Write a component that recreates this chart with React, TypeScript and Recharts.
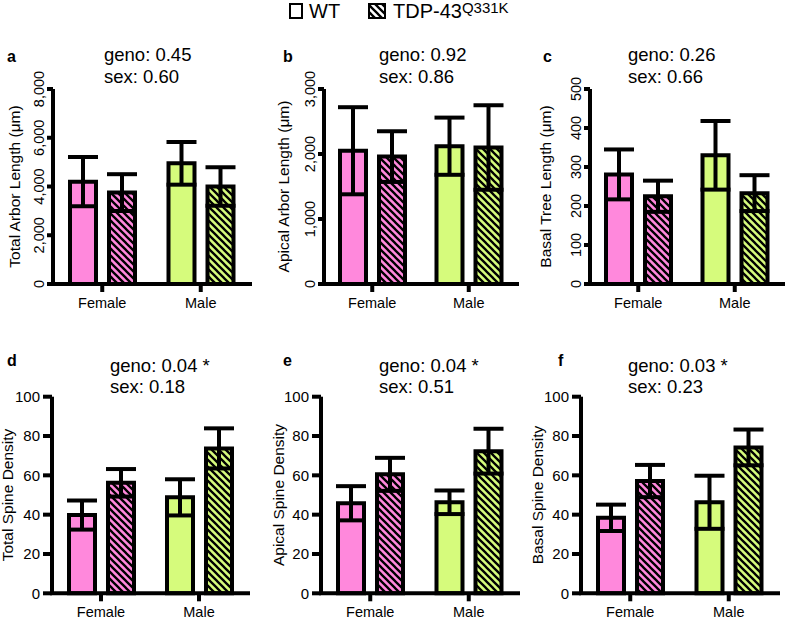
import React from "react";
import { BarChart, Bar, XAxis, YAxis, Cell, ErrorBar, Label } from "recharts";

const sexes = ["Female", "Male"];

// a - total arbor length (um)
const totalArborWT = [4200, 4950];
const totalArborWTSem = [1010, 875];
const totalArborTDP = [3750, 4000];
const totalArborTDPSem = [755, 790];

// b - apical arbor length (um)
const apicalArborWT = [2050, 2120];
const apicalArborWTSem = [670, 440];
const apicalArborTDP = [1960, 2100];
const apicalArborTDPSem = [390, 650];

// c - basal tree length (um)
const basalTreeWT = [281, 330];
const basalTreeWTSem = [64, 88];
const basalTreeTDP = [225, 233];
const basalTreeTDPSem = [40, 46];

// d - total spine density
const totalSpineWT = [39.8, 48.8];
const totalSpineWTSem = [7.4, 9.2];
const totalSpineTDP = [56.2, 73.7];
const totalSpineTDPSem = [7.0, 10.2];

// e - apical spine density
const apicalSpineWT = [45.8, 46.3];
const apicalSpineWTSem = [8.7, 6.0];
const apicalSpineTDP = [60.5, 72.3];
const apicalSpineTDPSem = [8.4, 11.4];

// f - basal spine density
const basalSpineWT = [38.4, 46.3];
const basalSpineWTSem = [6.7, 13.5];
const basalSpineTDP = [57.1, 74.2];
const basalSpineTDPSem = [8.2, 9.1];

const arborTicks = [0, 2000, 4000, 6000, 8000];
const apicalTicks = [0, 1000, 2000, 3000];
const basalTicks = [0, 100, 200, 300, 400, 500];
const densityTicks = [0, 20, 40, 60, 80, 100];

const panelLetters = ["a", "b", "c", "d", "e", "f"];
const yTitles = [
  "Total Arbor Length (μm)",
  "Apical Arbor Length (μm)",
  "Basal Tree Length (μm)",
  "Total Spine Density",
  "Apical Spine Density",
  "Basal Spine Density",
];
const genoP = ["0.45", "0.92", "0.26", "0.04 *", "0.04 *", "0.03 *"];
const sexP = ["0.60", "0.86", "0.66", "0.18", "0.51", "0.23"];

const PINK = "#ff88dc";
const GREEN = "#d6fb7c";
const FONT = "'Liberation Sans', Arial, Helvetica, sans-serif";
const SW = 4;

const table = (wt: number[], wtSem: number[], tdp: number[], tdpSem: number[]) =>
  sexes.map((sex, i) => ({ sex, wt: wt[i], wtErr: wtSem[i], tdp: tdp[i], tdpErr: tdpSem[i] }));

const panels = [
  { data: table(totalArborWT, totalArborWTSem, totalArborTDP, totalArborTDPSem), ticks: arborTicks },
  { data: table(apicalArborWT, apicalArborWTSem, apicalArborTDP, apicalArborTDPSem), ticks: apicalTicks },
  { data: table(basalTreeWT, basalTreeWTSem, basalTreeTDP, basalTreeTDPSem), ticks: basalTicks },
  { data: table(totalSpineWT, totalSpineWTSem, totalSpineTDP, totalSpineTDPSem), ticks: densityTicks },
  { data: table(apicalSpineWT, apicalSpineWTSem, apicalSpineTDP, apicalSpineTDPSem), ticks: densityTicks },
  { data: table(basalSpineWT, basalSpineWTSem, basalSpineTDP, basalSpineTDPSem), ticks: densityTicks },
];

// layout: left, width, y-axis width, right margin, title baseline x (page), letter x, stats x
const layout = [
  { left: 0, width: 260, yw: 53, mr: 10, titleX: 19.5, letterX: 7, statX: 104 },
  { left: 262, width: 262, yw: 62, mr: 7, titleX: 289, letterX: 283, statX: 379 },
  { left: 524, width: 263, yw: 66, mr: 4, titleX: 551, letterX: 543, statX: 628 },
  { left: 0, width: 260, yw: 52, mr: 12, titleX: 13, letterX: 7, statX: 110 },
  { left: 262, width: 262, yw: 59, mr: 6, titleX: 284, letterX: 283, statX: 379 },
  { left: 524, width: 263, yw: 57, mr: 9, titleX: 543, letterX: 558, statX: 628 },
];

const rows = [
  { top: 40, height: 280, mt: 49, mb: 6, xh: 30, tickMargin: 6, letterY: 62, statY: 61 },
  { top: 350, height: 269, mt: 46.7, mb: 0, xh: 25.7, tickMargin: 5, letterY: 366, statY: 371.7 },
];

const fmt = (v: number) => v.toLocaleString("en-US");

function RotatedTick(props: any) {
  const { x, y, payload } = props;
  return (
    <text
      x={x}
      y={y}
      transform={`rotate(-90, ${x}, ${y})`}
      textAnchor="middle"
      fontSize={14.5}
      fill="#000"
      fontFamily={FONT}
    >
      {fmt(payload.value)}
    </text>
  );
}

function FlatTick(props: any) {
  const { x, y, payload } = props;
  return (
    <text x={x} y={y} dy="0.35em" textAnchor="end" fontSize={15} fill="#000" fontFamily={FONT}>
      {payload.value}
    </text>
  );
}

function Panel({ idx }: { idx: number }) {
  const p = panels[idx];
  const l = layout[idx];
  const r = rows[idx < 3 ? 0 : 1];
  const plotH = r.height - r.mt - r.mb - r.xh;
  const titleY = r.mt + plotH / 2;
  const titleX = l.titleX - l.left;
  const top = idx < 3;
  return (
    <div style={{ position: "absolute", left: l.left, top: r.top }}>
      <BarChart
        width={l.width}
        height={r.height}
        data={p.data}
        margin={{ top: r.mt, right: l.mr, bottom: r.mb, left: 0 }}
        barSize={26}
        barGap={13}
      >
        <XAxis
          dataKey="sex"
          height={r.xh}
          axisLine={{ stroke: "#000", strokeWidth: SW, strokeLinecap: "square" }}
          tickLine={{ stroke: "#000", strokeWidth: SW }}
          tickSize={8}
          tickMargin={r.tickMargin}
          tick={{ fill: "#000", fontSize: 14.5, fontFamily: FONT }}
        />
        <YAxis
          width={l.yw}
          domain={[0, p.ticks[p.ticks.length - 1]]}
          ticks={p.ticks}
          interval={0}
          axisLine={{ stroke: "#000", strokeWidth: SW }}
          tickLine={{ stroke: "#000", strokeWidth: SW }}
          tickSize={top ? 6 : 9}
          tickMargin={3}
          tick={top ? <RotatedTick /> : <FlatTick />}
        >
          <Label
            content={() => (
              <text
                x={titleX}
                y={titleY}
                transform={`rotate(-90, ${titleX}, ${titleY})`}
                textAnchor="middle"
                fontSize={15.5}
                fill="#000"
                fontFamily={FONT}
              >
                {yTitles[idx]}
              </text>
            )}
          />
        </YAxis>
        <Bar dataKey="wt" stroke="#000" strokeWidth={SW} isAnimationActive={false}>
          {p.data.map((_, i) => (
            <Cell key={i} fill={i === 0 ? PINK : GREEN} />
          ))}
          <ErrorBar dataKey="wtErr" width={15} stroke="#000" strokeWidth={SW} isAnimationActive={false} />
        </Bar>
        <Bar dataKey="tdp" stroke="#000" strokeWidth={SW} isAnimationActive={false}>
          {p.data.map((_, i) => (
            <Cell key={i} fill={i === 0 ? "url(#hatchPink)" : "url(#hatchGreen)"} />
          ))}
          <ErrorBar dataKey="tdpErr" width={15} stroke="#000" strokeWidth={SW} isAnimationActive={false} />
        </Bar>
      </BarChart>
    </div>
  );
}

function Hatch({ id, color }: { id: string; color: string }) {
  return (
    <pattern id={id} patternUnits="userSpaceOnUse" width={7} height={7}>
      <rect width={7} height={7} fill={color} />
      <path d="M-1,-1 L8,8 M-1,6 L1,8 M6,-1 L8,1" stroke="#000" strokeWidth={2.3} />
    </pattern>
  );
}

export default function App() {
  return (
    <div
      style={{
        position: "absolute",
        left: 0,
        top: 0,
        width: 787,
        height: 619,
        background: "#fff",
        fontFamily: FONT,
        overflow: "hidden",
      }}
    >
      <svg width={0} height={0} style={{ position: "absolute" }}>
        <defs>
          <Hatch id="hatchPink" color={PINK} />
          <Hatch id="hatchGreen" color={GREEN} />
          <Hatch id="hatchWhite" color="#fff" />
        </defs>
      </svg>
      {panels.map((_, i) => (
        <Panel key={i} idx={i} />
      ))}
      <svg
        width={787}
        height={619}
        style={{ position: "absolute", left: 0, top: 0, pointerEvents: "none" }}
        fontFamily={FONT}
      >
        <rect x={290} y={4} width={12} height={14} fill="#fff" stroke="#000" strokeWidth={2} />
        <text x={309} y={18} fontSize={20} fill="#000">
          WT
        </text>
        <rect x={369} y={4} width={16} height={14} fill="url(#hatchWhite)" stroke="#000" strokeWidth={2} />
        <text x={393} y={18} fontSize={20} fill="#000">
          TDP-43
          <tspan fontSize={15} dy={-5}>
            Q331K
          </tspan>
        </text>
        {layout.map((l, i) => {
          const r = rows[i < 3 ? 0 : 1];
          return (
            <g key={i}>
              <text x={l.letterX} y={r.letterY} fontSize={16} fontWeight="bold" fill="#000">
                {panelLetters[i]}
              </text>
              <text x={l.statX} y={r.statY} fontSize={18.5} fill="#000">
                {`geno: ${genoP[i]}`}
              </text>
              <text x={l.statX} y={r.statY + 21.5} fontSize={18.5} fill="#000">
                {`sex: ${sexP[i]}`}
              </text>
            </g>
          );
        })}
      </svg>
    </div>
  );
}
